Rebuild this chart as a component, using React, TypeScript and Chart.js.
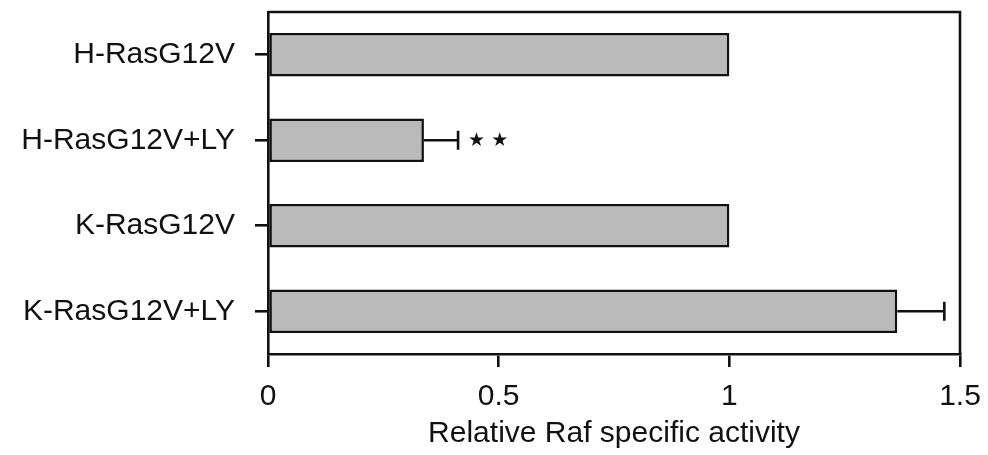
import React, { useEffect, useRef } from "react";
import { Chart, registerables } from "chart.js";

Chart.register(...registerables);

const categories = ["H-RasG12V", "H-RasG12V+LY", "K-RasG12V", "K-RasG12V+LY"];
const values = [1.0, 0.338, 1.0, 1.364];
const errors = [0, 0.074, 0, 0.102];
const significance = ["", "★ ★", "", ""];
const xTicks = [0, 0.5, 1, 1.5];
const xTitle = "Relative Raf specific activity";

const FONT = "'Liberation Sans', Arial, Helvetica, sans-serif";

const frameAndErrors = {
  id: "frameAndErrors",
  afterDatasetsDraw(chart: any) {
    const { ctx, chartArea, scales } = chart;
    const xs = scales.x;
    const ys = scales.y;
    ctx.save();
    ctx.strokeStyle = "#111";
    ctx.lineWidth = 2.6;
    values.forEach((v, i) => {
      const e = errors[i];
      const y = ys.getPixelForValue(i);
      if (e > 0) {
        const x0 = xs.getPixelForValue(v);
        const x1 = xs.getPixelForValue(v + e);
        ctx.beginPath();
        ctx.moveTo(x0, y);
        ctx.lineTo(x1, y);
        ctx.moveTo(x1, y - 9.5);
        ctx.lineTo(x1, y + 9.5);
        ctx.stroke();
        if (significance[i]) {
          ctx.fillStyle = "#111";
          ctx.font = "19px 'DejaVu Sans', sans-serif";
          ctx.textAlign = "left";
          ctx.textBaseline = "middle";
          ctx.fillText(significance[i], x1 + 10, y + 1);
        }
      }
    });
    ctx.strokeStyle = "#111";
    ctx.lineWidth = 2.6;
    ctx.beginPath();
    ctx.moveTo(chartArea.left, chartArea.top);
    ctx.lineTo(chartArea.right, chartArea.top);
    ctx.lineTo(chartArea.right, chartArea.bottom);
    ctx.stroke();
    ctx.restore();
  },
};

export default function App() {
  const ref = useRef<HTMLCanvasElement | null>(null);
  useEffect(() => {
    document.body.style.margin = "0";
    const canvas = ref.current;
    if (!canvas) return;
    const chart = new Chart(canvas, {
      type: "bar",
      data: {
        labels: categories,
        datasets: [
          {
            data: values,
            backgroundColor: "#bababa",
            borderColor: "#111",
            borderWidth: 2.6,
            borderSkipped: false,
            barPercentage: 0.51,
            categoryPercentage: 1,
          },
        ],
      },
      options: {
        indexAxis: "y",
        animation: false,
        responsive: false,
        devicePixelRatio: 1,
        layout: { padding: { top: 12, right: 28, left: 0, bottom: 0 } },
        plugins: { legend: { display: false }, tooltip: { enabled: false } },
        scales: {
          x: {
            type: "linear",
            min: 0,
            max: 1.5,
            afterFit: (s: any) => {
              s.height = 101;
              s.paddingRight = 0;
              s.paddingLeft = 0;
            },
            afterBuildTicks: (s: any) => {
              s.ticks = xTicks.map((v) => ({ value: v }));
            },
            ticks: {
              color: "#111",
              font: { family: FONT, size: 30 },
              padding: 12,
              callback: (v: any) => String(v),
              maxRotation: 0,
            },
            grid: {
              display: true,
              drawOnChartArea: false,
              drawTicks: true,
              tickLength: 13,
              color: "#111",
              lineWidth: 2.6,
            },
            border: { display: true, color: "#111", width: 2.6 },
            title: {
              display: true,
              text: xTitle,
              color: "#111",
              font: { family: FONT, size: 30 },
              padding: { top: 0, bottom: 3 },
            },
          },
          y: {
            type: "category",
            afterFit: (s: any) => {
              s.width = 268;
              s.paddingTop = 0;
              s.paddingBottom = 0;
            },
            ticks: {
              color: "#111",
              font: { family: FONT, size: 30 },
              padding: 20,
            },
            grid: {
              display: true,
              offset: false,
              drawOnChartArea: false,
              drawTicks: true,
              tickLength: 13,
              color: "#111",
              lineWidth: 2.6,
            },
            border: { display: true, color: "#111", width: 2.6 },
          },
        },
      },
      plugins: [frameAndErrors],
    });
    return () => chart.destroy();
  }, []);
  return (
    <div style={{ width: 988, height: 455 }}>
      <canvas ref={ref} width={988} height={455} style={{ display: "block" }} />
    </div>
  );
}
